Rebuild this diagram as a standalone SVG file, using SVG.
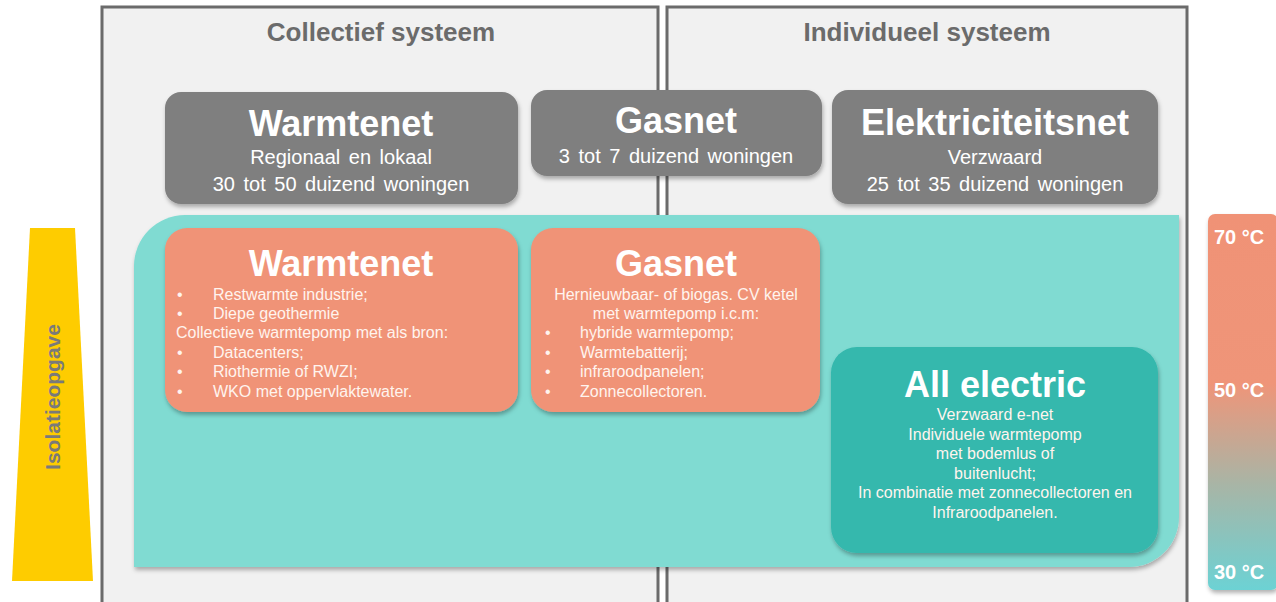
<svg xmlns="http://www.w3.org/2000/svg" width="1276" height="602" viewBox="0 0 1276 602">
<defs>
<linearGradient id="temp" x1="0" y1="0" x2="0" y2="1">
<stop offset="0" stop-color="#f09276"/>
<stop offset="0.45" stop-color="#ef9579"/>
<stop offset="0.72" stop-color="#a8b5a6"/>
<stop offset="1" stop-color="#6cd2d4"/>
</linearGradient>
<filter id="sh" x="-5%" y="-5%" width="112%" height="115%">
<feDropShadow dx="1" dy="3" stdDeviation="2" flood-color="#000" flood-opacity="0.3"/>
</filter>
</defs>
<style>
.panel{fill:#f1f1f1;stroke:#6b6b6b;stroke-width:3}
.head{font-family:"Liberation Sans",Arial,sans-serif;font-size:26px;font-weight:bold;fill:#6b6b6b;text-anchor:middle}
.grey{fill:#7f7f7f;filter:url(#sh)}
.orange{fill:#f09377;filter:url(#sh)}
.ae{fill:#34b8ad;filter:url(#sh)}
.title{font-family:"Liberation Sans",Arial,sans-serif;font-size:36px;font-weight:bold;fill:#fff;text-anchor:middle}
.sub{font-family:"Liberation Sans",Arial,sans-serif;font-size:20px;word-spacing:3px;fill:#fff;text-anchor:middle}
.body{font-family:"Liberation Sans",Arial,sans-serif;font-size:16px;fill:#fff4ee}
.mid{text-anchor:middle}
.temp{font-family:"Liberation Sans",Arial,sans-serif;font-size:20px;font-weight:bold;fill:#fff}
</style>

<g id="panel-collectief">
<rect class="panel" x="102" y="7" width="556" height="600"/>
<text class="head" x="381" y="41">Collectief systeem</text>
</g>
<g id="panel-individueel">
<rect class="panel" x="667" y="7" width="520" height="600"/>
<text class="head" x="927" y="41">Individueel systeem</text>
</g>

<g id="isolatie">
<polygon points="30,228 75,228 93,581 12,581" fill="#fecc00"/>
<text x="60" y="397" transform="rotate(-90 60 397)" font-family="Liberation Sans, Arial, sans-serif" font-size="21" font-weight="bold" fill="#7a7a7a" text-anchor="middle">Isolatieopgave</text>
</g>

<g id="temperatuur">
<rect x="1208" y="214" width="70" height="376" rx="7" fill="url(#temp)" filter="url(#sh)"/>
<text class="temp" x="1214" y="244">70 °C</text>
<text class="temp" x="1214" y="397">50 °C</text>
<text class="temp" x="1214" y="579">30 °C</text>
</g>

<g id="teal-area">
<path d="M185,215 H1179 V517 A50,50 0 0 1 1129,567 H134 V266 A51,51 0 0 1 185,215 Z" fill="#80dbd2" filter="url(#sh)"/>
</g>

<g id="warmtenet-net">
<rect class="grey" x="165" y="92" width="353" height="112" rx="16"/>
<text class="title" x="341" y="136">Warmtenet</text>
<text class="sub" x="341" y="164">Regionaal en lokaal</text>
<text class="sub" x="341" y="191">30 tot 50 duizend woningen</text>
</g>

<g id="gasnet-net">
<rect class="grey" x="531" y="90" width="291" height="86" rx="16"/>
<text class="title" x="676" y="133">Gasnet</text>
<text class="sub" x="676" y="163">3 tot 7 duizend woningen</text>
</g>

<g id="elektriciteitsnet">
<rect class="grey" x="832" y="90" width="326" height="114" rx="16"/>
<text class="title" x="995" y="135">Elektriciteitsnet</text>
<text class="sub" x="995" y="164">Verzwaard</text>
<text class="sub" x="995" y="191">25 tot 35 duizend woningen</text>
</g>

<g id="warmtenet">
<rect class="orange" x="165" y="228" width="353" height="184" rx="22"/>
<text class="title" x="341" y="276">Warmtenet</text>
<g class="body">
<text x="177" y="300">•</text><text x="213" y="300">Restwarmte industrie;</text>
<text x="177" y="319">•</text><text x="213" y="319">Diepe geothermie</text>
<text x="176" y="338">Collectieve warmtepomp met als bron:</text>
<text x="177" y="358">•</text><text x="213" y="358">Datacenters;</text>
<text x="177" y="377">•</text><text x="213" y="377">Riothermie of RWZI;</text>
<text x="177" y="397">•</text><text x="213" y="397">WKO met oppervlaktewater.</text>
</g>
</g>

<g id="gasnet">
<rect class="orange" x="531" y="228" width="289" height="184" rx="22"/>
<text class="title" x="676" y="276">Gasnet</text>
<g class="body">
<text class="mid" x="676" y="300">Hernieuwbaar- of biogas. CV ketel</text>
<text class="mid" x="676" y="319">met warmtepomp i.c.m:</text>
<text x="545" y="338">•</text><text x="580" y="338">hybride warmtepomp;</text>
<text x="545" y="358">•</text><text x="580" y="358">Warmtebatterij;</text>
<text x="545" y="377">•</text><text x="580" y="377">infraroodpanelen;</text>
<text x="545" y="397">•</text><text x="580" y="397">Zonnecollectoren.</text>
</g>
</g>

<g id="all-electric">
<rect class="ae" x="831" y="347" width="327" height="206" rx="26"/>
<text class="title" x="995" y="397">All electric</text>
<g class="body">
<text class="mid" x="995" y="420">Verzwaard e-net</text>
<text class="mid" x="995" y="440">Individuele warmtepomp</text>
<text class="mid" x="995" y="459">met bodemlus of</text>
<text class="mid" x="995" y="479">buitenlucht;</text>
<text class="mid" x="995" y="498">In combinatie met zonnecollectoren en</text>
<text class="mid" x="995" y="518">Infraroodpanelen.</text>
</g>
</g>

<g id="connectors"></g>
</svg>
